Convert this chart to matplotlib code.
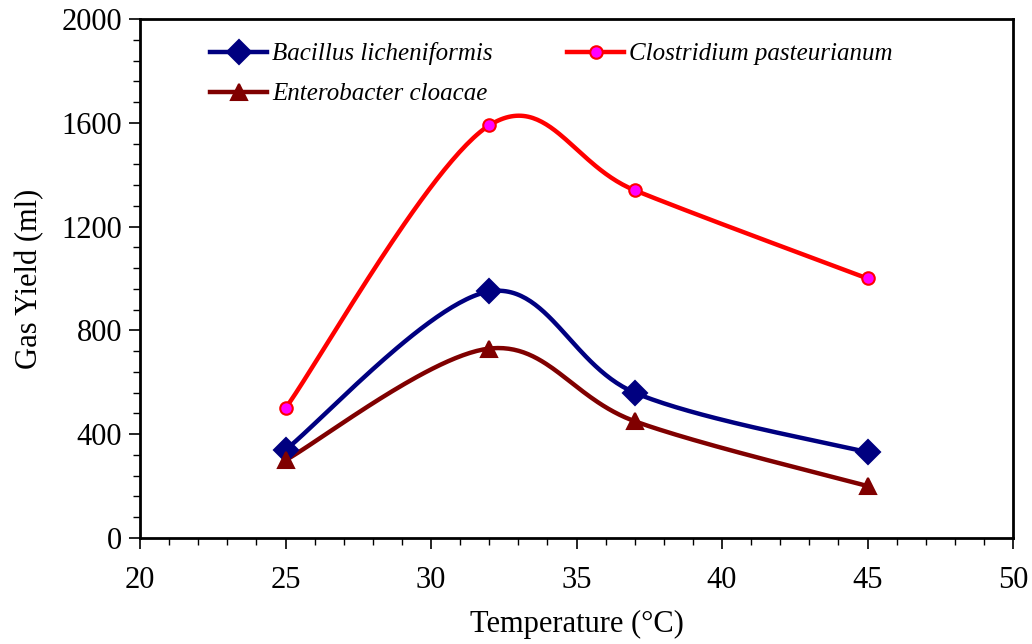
import numpy as np
import matplotlib
matplotlib.use("Agg")
import matplotlib.pyplot as plt
from matplotlib.ticker import MultipleLocator

temperature = [25, 32, 37, 45]
bacillus = [340, 950, 560, 330]
clostridium = [500, 1590, 1340, 1000]
enterobacter = [300, 730, 450, 200]

names = ["Bacillus licheniformis", "Clostridium pasteurianum", "Enterobacter cloacae"]

plt.rcParams['font.family'] = ['Liberation Serif', 'DejaVu Serif']


def smooth(x, y, n=60):
    x = np.asarray(x, float)
    y = np.asarray(y, float)
    px = np.concatenate([[x[0]], x, [x[-1]]])
    py = np.concatenate([[y[0]], y, [y[-1]]])
    xs, ys = [], []
    t = np.linspace(0, 1, n)
    for i in range(1, len(px) - 2):
        p0 = np.array([px[i], py[i]])
        p3 = np.array([px[i + 1], py[i + 1]])
        p1 = p0 + (np.array([px[i + 1], py[i + 1]]) - np.array([px[i - 1], py[i - 1]])) / 6
        p2 = p3 - (np.array([px[i + 2], py[i + 2]]) - np.array([px[i], py[i]])) / 6
        b = ((1 - t) ** 3)[:, None] * p0 + (3 * (1 - t) ** 2 * t)[:, None] * p1 \
            + (3 * (1 - t) * t ** 2)[:, None] * p2 + (t ** 3)[:, None] * p3
        xs.append(b[:, 0]); ys.append(b[:, 1])
    return np.concatenate(xs), np.concatenate(ys)


fig = plt.figure(figsize=(10.32, 6.44), dpi=100)
ax = fig.add_axes([0.1357, 0.1646, 0.8459, 0.8059])

styles = [
    (bacillus, '#000080', 'D', '#000080', '#000080', 12),
    (clostridium, '#FF0000', 'o', '#FF00FF', '#FF0000', 9),
    (enterobacter, '#800000', '^', '#800000', '#800000', 12),
]
handles = []
for (vals, col, mk, fc, ec, ms), name in zip(styles, names):
    sx, sy = smooth(temperature, vals)
    ax.plot(sx, sy, color=col, lw=3.2, solid_capstyle='round', zorder=2)
    ax.plot(temperature, vals, ls='none', marker=mk, ms=ms, mfc=fc, mec=ec, mew=1.5, zorder=3)
    h, = ax.plot([], [], color=col, lw=3.2, marker=mk, ms=ms, mfc=fc, mec=ec, mew=1.5)
    handles.append(h)

ax.set_xlim(20, 50)
ax.set_ylim(0, 2000)
ax.xaxis.set_major_locator(MultipleLocator(5))
ax.xaxis.set_minor_locator(MultipleLocator(1))
ax.yaxis.set_major_locator(MultipleLocator(400))
ax.yaxis.set_minor_locator(MultipleLocator(80))
ax.tick_params(axis='both', which='major', direction='out', length=8, width=1.2, labelsize=22, pad=5)
ax.tick_params(axis='both', which='minor', direction='out', length=5, width=1)
ax.tick_params(axis='x', pad=12)
for s in ax.spines.values():
    s.set_linewidth(2)

ax.set_xlabel('Temperature (°C)', fontsize=22, labelpad=11)
ax.set_ylabel('Gas Yield (ml)', fontsize=22, labelpad=12)

leg = ax.legend([handles[0], handles[2], handles[1]], [names[0], names[2], names[1]],
                ncol=2, loc='upper left', bbox_to_anchor=(0.08, 0.955), frameon=False,
                prop={'style': 'italic', 'size': 18}, handlelength=2.3, handletextpad=0.2,
                columnspacing=2.95, labelspacing=0.7, borderpad=0, borderaxespad=0)

fig.savefig('out.png', dpi=100)
